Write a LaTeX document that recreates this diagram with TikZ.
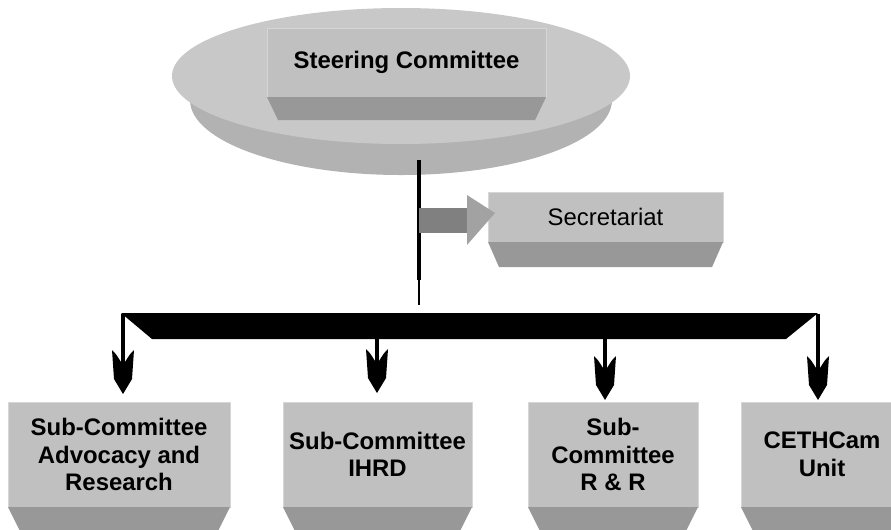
\documentclass[tikz,border=0pt]{standalone}
\usepackage{fontspec}
\setmainfont{Liberation Sans}
\usetikzlibrary{calc}

\definecolor{facegray}{RGB}{192,192,192}
\definecolor{bandgray}{RGB}{152,152,152}
\definecolor{edgegray}{RGB}{214,214,214}
\definecolor{disctop}{RGB}{200,200,200}
\definecolor{discside}{RGB}{178,178,178}
\definecolor{shaftgray}{RGB}{128,128,128}
\definecolor{headgray}{RGB}{162,162,162}

\tikzset{
  face/.style={draw=edgegray,line width=0.6pt,fill=facegray,inner sep=0pt,outer sep=0pt,
    anchor=north west,align=center,font=\fontsize{17}{19.6}\selectfont},
  boldface/.style={face,font=\fontsize{17}{19.6}\selectfont\bfseries},
  band/.style={fill=bandgray},
  shaft/.style={line width=2.4pt,shorten >=14pt},
  barbhead/.pic={
    \fill (0,0) -- (-9,-15) -- (-11,-44) .. controls (-7,-40) .. (-2,-32)
      -- (2,-32) .. controls (7,-40) .. (11,-44) -- (9,-15) -- cycle;
  }
}

% darker slab under a face: node name, depth, inset
\newcommand{\slabband}[3]{%
  \fill[band] (#1.south west) -- (#1.south east) -- ($(#1.south east)+(-#3,#2)$)
    -- ($(#1.south west)+(#3,#2)$) -- cycle;}

\begin{document}
\begin{tikzpicture}[x=0.025cm,y=-0.025cm]
\useasboundingbox (0,0) rectangle (891,529);
\clip (0,0) rectangle (891,529);

% disc under the steering committee
\fill[discside] (401,100) ellipse [x radius=211,y radius=75];
\fill[discside] (172,76) -- (630,76) -- (612,100) -- (190,100) -- cycle;
\fill[disctop] (401,76) ellipse [x radius=229,y radius=68];

\node[boldface,minimum width=6.975cm,minimum height=1.725cm] (steer) at (267,28) {Steering Committee};
\slabband{steer}{23}{11}

% trunk
\coordinate (d) at (419,160);
\coordinate (j) at (419,220);
\coordinate (k) at (419,280);
\coordinate (m) at (419,305);
\draw[line width=2.2pt] (d) -- (k);
\draw[line width=0.8pt] (k) -- (m);

\node[face,minimum width=5.875cm,minimum height=1.25cm] (sec) at (488,192) {Secretariat};
\slabband{sec}{25}{11}
\fill[shaftgray] ($(j)+(0,-12)$) rectangle ($(sec.west)+(-21,16)$);
\fill[headgray] ($(sec.west)+(-21,-22)$) -- ($(sec.west)+(7,-4)$) -- ($(sec.west)+(-21,28)$) -- cycle;

% bus bar
\fill (121,313) -- (818,313) -- (786,339) -- (152,339) -- cycle;

\coordinate (s1) at (123,314);
\coordinate (s2) at (377,338);
\coordinate (s3) at (605,338);
\coordinate (s4) at (818,314);
\coordinate (t1) at (123,394);
\coordinate (t2) at (377,393);
\coordinate (t3) at (605,400);
\coordinate (t4) at (818,400);

\node[boldface,minimum width=5.55cm,minimum height=2.625cm] (b1) at (8,402) {Sub-Committee\\Advocacy and\\Research};
\node[boldface,minimum width=4.725cm,minimum height=2.625cm] (b2) at (283,402) {Sub-Committee\\IHRD};
\node[boldface,minimum width=4.25cm,minimum height=2.625cm] (b3) at (528,402) {Sub-\\Committee\\R \& R};
\node[boldface,minimum width=4.05cm,minimum height=2.625cm] (b4) at (741,402) {CETHCam\\Unit};
\slabband{b1}{28}{14}
\slabband{b2}{28}{14}
\slabband{b3}{28}{14}
\slabband{b4}{28}{14}

\draw[shaft] (s1) -- (t1);
\draw[shaft] (s2) -- (t2);
\draw[shaft] (s3) -- (t3);
\draw[shaft] (s4) -- (t4);
\pic at (t1) {barbhead};
\pic at (t2) {barbhead};
\pic at (t3) {barbhead};
\pic at (t4) {barbhead};

\end{tikzpicture}
\end{document}
